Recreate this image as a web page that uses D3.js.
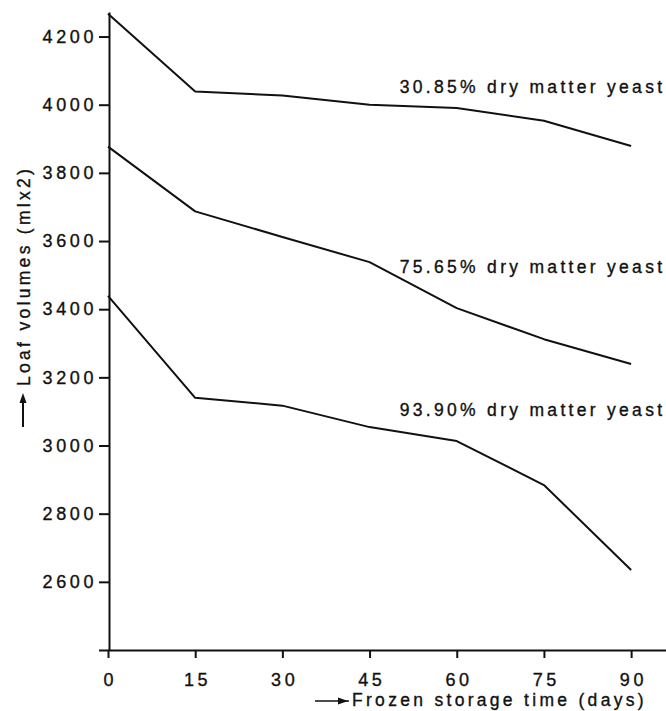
<!DOCTYPE html>
<html>
<head>
<script src="https://d3js.org/d3.v7.min.js"></script>
<style>
body { margin: 0; background: #fff; }
svg { display: block; }
.axis path, .axis line { fill: none; stroke: #111; stroke-width: 2px; }
.axis text, .lbl {
    font-family: "Liberation Sans", Arial, sans-serif;
    font-size: 17.5px;
    letter-spacing: 3.3px;
    fill: #111;
    stroke: #111;
    stroke-width: 0.35px;
}
.axis text { font-size: 18px; letter-spacing: 3.6px; }
</style>
</head>
<body>
<div id="canvas"></div>
<script type="text/javascript">
// values
var days = [0, 15, 30, 45, 60, 75, 90];
var yeast30 = [4267, 4039, 4027, 4000, 3990, 3953, 3879];
var yeast75 = [3877, 3687, 3612, 3538, 3403, 3312, 3239];
var yeast93 = [3439, 3140, 3117, 3054, 3013, 2884, 2635];
var seriesNames = ["30.85% dry matter yeast", "75.65% dry matter yeast", "93.90% dry matter yeast"];
var xTicks = [0, 15, 30, 45, 60, 75, 90];
var yTicks = [2400, 2600, 2800, 3000, 3200, 3400, 3600, 3800, 4000, 4200];
var yTickLabels = ["", "2600", "2800", "3000", "3200", "3400", "3600", "3800", "4000", "4200"];

var width = 666,
    height = 711,
    spacing = 3.6;

var svg = d3.select("#canvas")
    .append("svg")
    .attr("width", width)
    .attr("height", height);

var x = d3.scaleLinear().domain([0, 96]).range([108, 666]);
var y = d3.scaleLinear().domain([2400, 4272]).range([650, 12]);

// x axis
var xAxis = d3.axisBottom(x)
    .tickValues(xTicks)
    .tickSize(8)
    .tickSizeOuter(0)
    .tickPadding(15);
svg.append("g")
    .attr("class", "axis")
    .attr("transform", "translate(0," + y(2400) + ")")
    .call(xAxis)
    .selectAll("text")
    .attr("dx", spacing / 2);

// y axis
var yAxis = d3.axisLeft(y)
    .tickValues(yTicks)
    .tickFormat(function(d, i) { return yTickLabels[i]; })
    .tickSize(10)
    .tickSizeOuter(0)
    .tickPadding(2);
svg.append("g")
    .attr("class", "axis")
    .attr("transform", "translate(" + (x(0) + 1) + ",0)")
    .call(yAxis);

// series lines
var allSeries = [yeast30, yeast75, yeast93];
var line = d3.line()
    .x(function(d, i) { return x(days[i]); })
    .y(function(d) { return y(d); });

allSeries.forEach(function(vals) {
    svg.append("path")
        .datum(vals)
        .attr("fill", "none")
        .attr("stroke", "#111")
        .attr("stroke-width", 2)
        .attr("stroke-linejoin", "round")
        .attr("d", line);
});

// series labels (day, value of baseline)
var labelAt = [[50.2, 4034], [50.2, 3506], [50.2, 3086]];
seriesNames.forEach(function(name, i) {
    svg.append("text")
        .attr("class", "lbl")
        .attr("x", x(labelAt[i][0]))
        .attr("y", y(labelAt[i][1]))
        .text(name);
});

// axis titles with their little arrows
svg.append("text")
    .attr("class", "lbl")
    .attr("transform", "translate(30,386) rotate(-90)")
    .text("Loaf volumes (mlx2)");
svg.append("line")
    .attr("x1", 23).attr("y1", 427).attr("x2", 23).attr("y2", 398)
    .attr("stroke", "#111").attr("stroke-width", 2);
svg.append("path")
    .attr("d", "M23,393 L19.5,403 L26.5,403 Z")
    .attr("fill", "#111");

svg.append("text")
    .attr("class", "lbl")
    .attr("x", 352)
    .attr("y", 706)
    .text("Frozen storage time (days)");
svg.append("line")
    .attr("x1", 315).attr("y1", 701).attr("x2", 349).attr("y2", 701)
    .attr("stroke", "#111").attr("stroke-width", 1.5);
svg.append("path")
    .attr("d", "M348,701 L338,697.5 L338,704.5 Z")
    .attr("fill", "#111");
</script>
</body>
</html>
